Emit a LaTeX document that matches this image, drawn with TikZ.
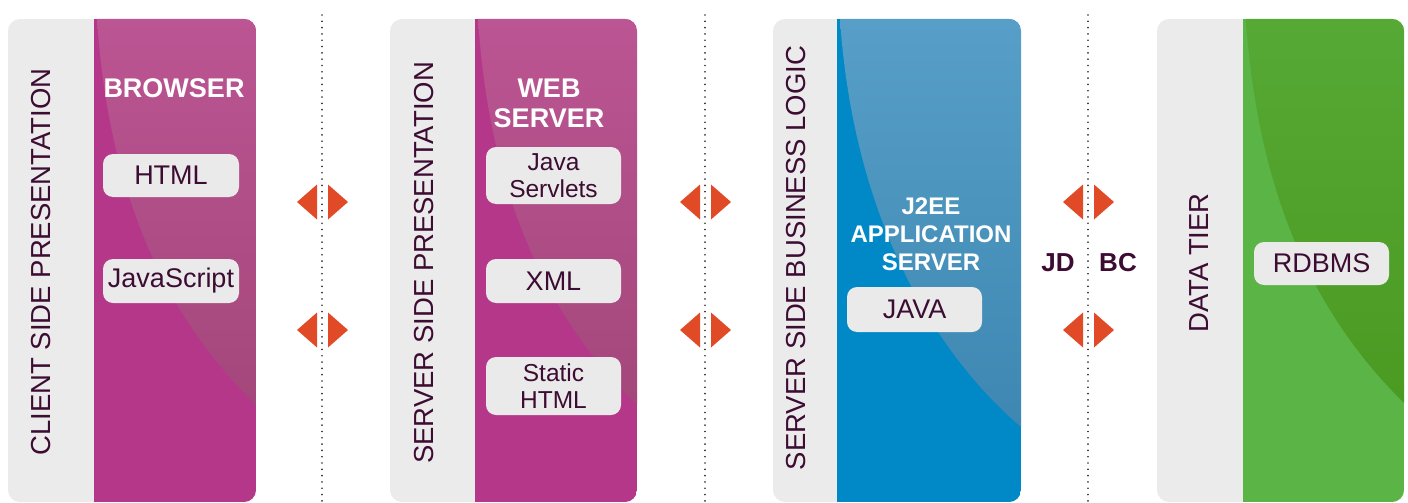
\documentclass[tikz,border=0pt]{standalone}
\usepackage{fontspec}
\setmainfont{Liberation Sans}
\definecolor{panelgrey}{HTML}{EBEBEB}
\definecolor{boxgrey}{HTML}{EAEAEA}
\definecolor{inkdark}{HTML}{3C0C32}
\definecolor{arrowred}{HTML}{E04A27}
\definecolor{sepgrey}{HTML}{303030}
\definecolor{magbase}{HTML}{B5378A}
\definecolor{magtop}{HTML}{BB5593}
\definecolor{magbot}{HTML}{A4477B}
\definecolor{bluebase}{HTML}{0089C6}
\definecolor{bluetop}{HTML}{579FC8}
\definecolor{bluebot}{HTML}{3D87B2}
\definecolor{greenbase}{HTML}{5AB446}
\definecolor{greentop}{HTML}{56A935}
\definecolor{greenbot}{HTML}{4B9A22}

% #1 left, #2 split, #3 right, #4 base, #5/#6 overlay top/bottom,
% #7 y where the curve meets the right edge, #8 second control x offset
\newcommand{\tierpanel}[8]{%
  \begin{scope}
    \path[clip, rounded corners=12pt] (#1,19) rectangle (#3,502);
    \fill[panelgrey] (#1,19) rectangle (#3,502);
    \fill[#4] (#2,19) rectangle (#3,502);
    \shade[top color=#5, bottom color=#6]
      (#2+3,19) .. controls (#2+15,200) and (#2+#8,#7-85) .. (#3,#7)
      -- (#3,19) -- cycle;
  \end{scope}}

\begin{document}
\begin{tikzpicture}[x=1pt, y=-1pt,
  tierlabel/.style={text=inkdark, inner sep=0pt, rotate=90,
    font=\fontsize{27.5}{30}\selectfont},
  headlabel/.style={text=white, inner sep=0pt, align=center,
    font=\fontsize{27}{30}\selectfont\bfseries},
  techbox/.style={fill=boxgrey, rounded corners=10pt, text=inkdark,
    inner sep=0pt, align=center, minimum width=136pt, minimum height=44pt,
    font=\fontsize{27}{30}\selectfont},
  techbox2/.style={techbox, minimum height=57pt,
    font=\fontsize{24.5}{27}\selectfont},
  apilabel/.style={text=inkdark, inner sep=0pt,
    font=\fontsize{26}{30}\selectfont\bfseries},
  sepline/.style={sepgrey, line width=1.8pt, line cap=round,
    dash pattern=on 0.01pt off 6.3pt},
  dualarrow/.pic={
    \fill[arrowred] (-5,-17.5) -- (-25,0) -- (-5,17.5) -- cycle;
    \fill[arrowred] (6,-17.5) -- (26,0) -- (6,17.5) -- cycle;}
]
\useasboundingbox (0,0) rectangle (1408,503);

% tier panels
\tierpanel{8}{94}{256}{magbase}{magtop}{magbot}{405}{75}
\tierpanel{390}{475}{637}{magbase}{magtop}{magbot}{405}{75}
\tierpanel{773}{837}{1021}{bluebase}{bluetop}{bluebot}{427}{85}
\tierpanel{1157}{1243}{1404}{greenbase}{greentop}{greenbot}{403}{75}

% separators between tiers
\draw[sepline] (322,15) -- (322,503);
\draw[sepline] (705,15) -- (705,503);
\draw[sepline] (1088,15) -- (1088,503);

% two-way arrows
\pic at (322,202) {dualarrow};
\pic at (322,330) {dualarrow};
\pic at (705,202) {dualarrow};
\pic at (705,330) {dualarrow};
\pic at (1088,202) {dualarrow};
\pic at (1088,330) {dualarrow};

% tier names
\node[tierlabel] (clientlbl) at (41,262) {CLIENT SIDE PRESENTATION};
\node[tierlabel] (serverlbl) at (424,263) {SERVER SIDE PRESENTATION};
\node[tierlabel] (logiclbl) at (796,258) {SERVER SIDE BUSINESS LOGIC};
\node[tierlabel] (datalbl) at (1199,263) {DATA TIER};

% headings
\node[headlabel] (browser) at (174,88) {BROWSER};
\node[headlabel] (webserver) at (549,103) {WEB\\SERVER};
\node[headlabel, font=\fontsize{24}{28}\selectfont\bfseries] (j2ee)
  at (931,234) {J2EE\\APPLICATION\\SERVER};

% technology boxes
\node[techbox, minimum height=43pt] (html) at (171,175.5) {HTML};
\node[techbox] (js) at (171,281) {JavaScript};
\node[techbox2, minimum width=135pt] (servlets) at (553.5,175.5) {Java\\Servlets};
\node[techbox, minimum width=135pt] (xml) at (553.5,281) {XML};
\node[techbox2, minimum width=135pt, minimum height=58pt] (static) at (553.5,386) {Static\\HTML};
\node[techbox, minimum width=135pt, minimum height=45pt] (java) at (914.5,309.5) {JAVA};
\node[techbox, minimum width=135pt, minimum height=43pt] (rdbms) at (1321.5,263.5) {RDBMS};

% JDBC link label
\node[apilabel] (jd) at (1058,263) {JD};
\node[apilabel] (bc) at (1118,263) {BC};
\end{tikzpicture}
\end{document}
